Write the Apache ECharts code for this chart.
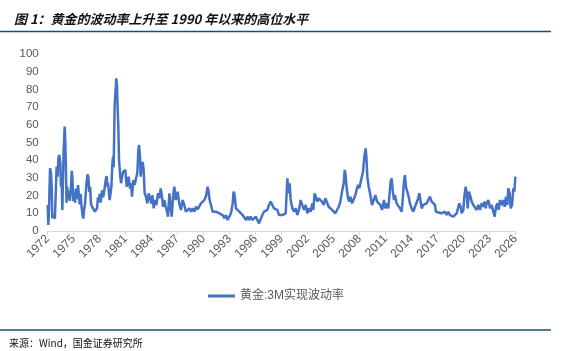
<!DOCTYPE html>
<html><head><meta charset="utf-8">
<script src="https://cdn.jsdelivr.net/npm/echarts@6/dist/echarts.min.js"></script>
<style>html,body{margin:0;padding:0;background:#fff}#c{width:586px;height:351px}</style>
</head><body><div id="c"></div>
<script>
// Gold 3M realized volatility (decimal year, %)
const years = [
1972.0,1972.07,1972.15,1972.2,1972.27,1972.38,1972.46,1972.53,1972.63,1972.73,1972.83,1972.92,
1973.03,1973.15,1973.23,1973.34,1973.46,1973.53,1973.61,1973.69,1973.77,1973.84,1973.96,
1974.03,1974.1,1974.17,1974.25,1974.35,1974.45,1974.55,1974.65,1974.78,1974.85,1974.95,
1975.05,1975.15,1975.25,1975.4,1975.5,1975.6,1975.7,1975.8,1975.9,
1976.0,1976.1,1976.2,1976.3,1976.4,1976.5,1976.6,1976.7,1976.8,1976.9,
1977.0,1977.1,1977.2,1977.3,1977.45,1977.6,1977.7,1977.8,1977.9,
1978.0,1978.1,1978.2,1978.3,1978.4,1978.5,1978.6,1978.7,1978.8,1978.9,
1978.96,1979.15,1979.35,1979.46,1979.54,1979.61,1979.73,1979.84,1979.92,
1980.0,1980.08,1980.15,1980.23,1980.34,1980.46,1980.58,1980.69,1980.84,1980.96,
1981.11,1981.23,1981.34,1981.5,1981.61,1981.73,1981.88,
1982.04,1982.19,1982.34,1982.46,1982.54,1982.65,1982.73,1982.84,1982.96,
1983.07,1983.19,1983.34,1983.5,1983.65,1983.8,1983.96,
1984.08,1984.23,1984.38,1984.54,1984.73,1984.88,
1985.04,1985.19,1985.31,1985.46,1985.61,1985.77,1985.88,
1986.04,1986.19,1986.31,1986.46,1986.61,1986.77,1986.96,
1987.0,1987.18,1987.38,1987.57,1987.76,1987.95,
1988.15,1988.34,1988.53,1988.72,1988.92,
1989.11,1989.3,1989.49,1989.68,1989.88,
1990.07,1990.26,1990.45,1990.57,1990.68,1990.84,
1991.03,1991.22,1991.42,1991.61,1991.8,1991.99,
1992.18,1992.38,1992.57,1992.76,1992.95,
1993.15,1993.34,1993.45,1993.57,1993.72,1993.92,
1994.11,1994.3,1994.49,1994.68,1994.88,
1995.07,1995.23,1995.42,1995.61,1995.8,
1996.0,1996.19,1996.38,1996.57,1996.77,1996.96,
1997.15,1997.34,1997.53,1997.73,1997.92,
1998.11,1998.3,1998.5,1998.69,1998.88,
1999.07,1999.27,1999.46,1999.57,1999.65,1999.77,1999.92,
2000.03,2000.23,2000.42,2000.61,2000.8,2000.99,
2001.19,2001.38,2001.57,2001.77,2001.96,
2002.15,2002.34,2002.53,2002.65,2002.8,2002.88,
2003.0,2003.12,2003.27,2003.46,2003.65,2003.85,
2004.04,2004.23,2004.42,2004.62,2004.81,
2005.0,2005.19,2005.38,2005.58,2005.77,2005.96,
2006.15,2006.27,2006.35,2006.46,2006.65,2006.81,2006.92,
2007.12,2007.31,2007.5,2007.69,2007.81,2007.96,
2008.08,2008.27,2008.38,2008.54,2008.69,2008.77,2008.88,
2009.04,2009.23,2009.42,2009.62,2009.81,
2010.0,2010.19,2010.38,2010.58,2010.65,2010.8,2010.96,
2011.11,2011.3,2011.42,2011.57,2011.69,2011.8,2011.96,
2012.07,2012.26,2012.46,2012.65,2012.84,2012.96,
2013.11,2013.22,2013.34,2013.49,2013.65,2013.8,2013.99,
2014.19,2014.38,2014.57,2014.76,2014.88,
2015.03,2015.15,2015.34,2015.53,2015.72,2015.92,
2016.11,2016.3,2016.49,2016.69,2016.8,2016.96,
2017.11,2017.26,2017.46,2017.65,2017.84,
2018.03,2018.22,2018.42,2018.61,2018.8,2018.99,
2019.19,2019.38,2019.49,2019.65,2019.76,2019.96,
2020.07,2020.23,2020.35,2020.46,2020.61,2020.73,2020.92,
2021.11,2021.3,2021.5,2021.69,2021.88,
2022.07,2022.27,2022.38,2022.54,2022.65,2022.84,
2023.04,2023.23,2023.42,2023.57,2023.73,2023.88,
2024.04,2024.19,2024.38,2024.57,2024.73,2024.88,
2025.04,2025.15,2025.31,2025.42,2025.58,2025.73,2025.85,2025.96
];
const vol = [
14.7,3.4,11.9,22,35.4,32.6,25,7.2,9,8.1,7,7.2,
36.3,30.7,41,43,38,25,28.8,11.9,30.7,45.8,59,
50,37,16,25,18,23,17,22,34,30,17,
22,16,24,18,26,20,15,21,14,
10,7,12,15,22,28,32,30,22,25,
15,14,13,12,11,10,13,19,17,
21,16,20,23,19,22,21,29,31,25,
27,17.5,25,38,42,36,72,79.7,86.3,
81.5,68,59,40,32.6,27,26,33.5,32.6,34.5,
25,27,30.7,24,27,19.4,28.8,
26,29.8,32.6,45.8,48.6,42,30.7,36.3,39,
34.5,21.3,19.4,15.6,21.3,18.5,15.6,
20.3,12.8,17.5,14.7,21.3,18.5,
24,19.4,13.7,17.5,13.7,11,8.1,
21.3,13.7,8.1,19.4,25,17.5,18.5,
22.2,15.6,11.9,17.5,14.7,10.9,
11.9,12.8,10.9,12.8,10.9,
13.7,12.2,11.9,15.6,16.6,
17.5,19.4,25,22.2,17.5,14.7,
10.9,10.4,10.9,10.9,10,10.4,
9,7.2,9,6.2,7.2,
10,15.6,22.2,20.3,12.8,11.9,
10.9,11.9,9,9,6.2,
8.1,6.2,8.1,6.2,5.3,
8.1,7.2,4.3,5.3,9,10.9,
10,11.9,14.7,16.6,14.7,
12.8,13.7,11.9,9,10,
9,8.1,10,21.3,29.8,21.3,26.9,
17.5,12.8,10.9,12.8,9,11.9,
17.5,16.6,11.9,14.7,10,
12.8,10.9,15.6,11.9,21.3,20.3,
21.3,16.6,18.5,17.5,16.6,14.7,
18.5,17.5,13.7,12.8,11.9,
12.8,10,10.9,13.7,16.6,22.2,
26.9,34.5,32.6,26,18.5,16.6,19.4,
15.6,14.7,20.3,24.1,26,24.1,
26.9,26,33.5,42,46.7,42,30.7,
25,20.3,14.7,17.5,20.3,
16.6,17.5,14.7,11.9,11.9,17.5,12.8,
15.6,12.8,19.4,27.9,29.8,23.2,17.5,
20.3,15.6,14.7,12.8,10.9,17.5,
27.9,31.6,25,22.2,19.4,15.6,12.8,
10.9,13.7,12.8,18.5,21.3,
16.6,12.8,14.7,13.7,15.6,16.6,
19.4,16.6,15.6,14.7,10.9,10,
10.4,10.9,10,9,10.9,
9,10.9,9,10,8.1,9,
10,9,15.6,13.7,10,11.9,
19.4,25,21.3,12.8,22.2,20.3,16.6,
14.7,13.7,11.9,14.7,11.9,
15.6,13.7,16.6,12.8,15.6,17.5,
12.8,14.7,10.9,8.1,13.7,15.6,
11.9,17.5,14.7,17.5,13.7,19.4,
14.7,24.1,21.3,12.8,14.7,24.1,22.2,30.7
];
const baseYear = 1972;
const seriesName = '黄金:3M实现波动率';

const chart = echarts.init(document.getElementById('c'), null, {renderer: 'canvas'});
const data = years.map((y, i) => [y - baseYear, vol[i]]);
const ruleColor = '#1B4F72';
chart.setOption({
  animation: false,
  backgroundColor: '#fff',
  title: [{
    text: '图 1：黄金的波动率上升至 1990 年以来的高位水平',
    left: 9, top: 8,
    textStyle: {fontSize: 13, fontWeight: 'bold', fontStyle: 'italic', color: '#111', fontFamily: 'Noto Sans CJK SC'}
  }],
  graphic: [
    {type: 'line', shape: {x1: 0, y1: 31.5, x2: 551, y2: 31.5}, style: {stroke: ruleColor, lineWidth: 1.5}},
    {type: 'line', shape: {x1: 0, y1: 330, x2: 551, y2: 330}, style: {stroke: ruleColor, lineWidth: 1.5}},
    {type: 'text', left: 9, top: 338, style: {text: '来源：Wind，国金证券研究所', fontSize: 10, fill: '#111', fontFamily: 'Noto Sans CJK SC'}}
  ],
  legend: {
    data: [seriesName], left: 203, top: 285,
    icon: 'rect', itemWidth: 27, itemHeight: 3, itemGap: 10,
    textStyle: {fontSize: 12, color: '#595959', fontFamily: 'Liberation Sans, Noto Sans CJK SC'}
  },
  grid: {left: 47.7, right: 70.3, top: 54, bottom: 120, containLabel: false},
  xAxis: {
    type: 'value', min: 0, max: 54, interval: 3,
    axisLine: {lineStyle: {color: '#D9D9D9', width: 1}},
    axisTick: {show: true, length: 4, lineStyle: {color: '#D9D9D9'}},
    splitLine: {show: false},
    axisLabel: {rotate: 45, margin: 6, fontSize: 12, color: '#595959', fontFamily: 'Liberation Sans',
      formatter: v => String(v + baseYear)}
  },
  yAxis: {
    type: 'value', min: 0, max: 100, interval: 10,
    axisLine: {show: false}, axisTick: {show: false}, splitLine: {show: false},
    axisLabel: {margin: 9, fontSize: 11.5, color: '#595959', fontFamily: 'Liberation Sans'}
  },
  series: [{
    name: seriesName, type: 'line', data: data, showSymbol: false, symbol: 'none',
    lineStyle: {color: '#4472C4', width: 2.5}, itemStyle: {color: '#4472C4'}
  }]
});
</script>
</body></html>
